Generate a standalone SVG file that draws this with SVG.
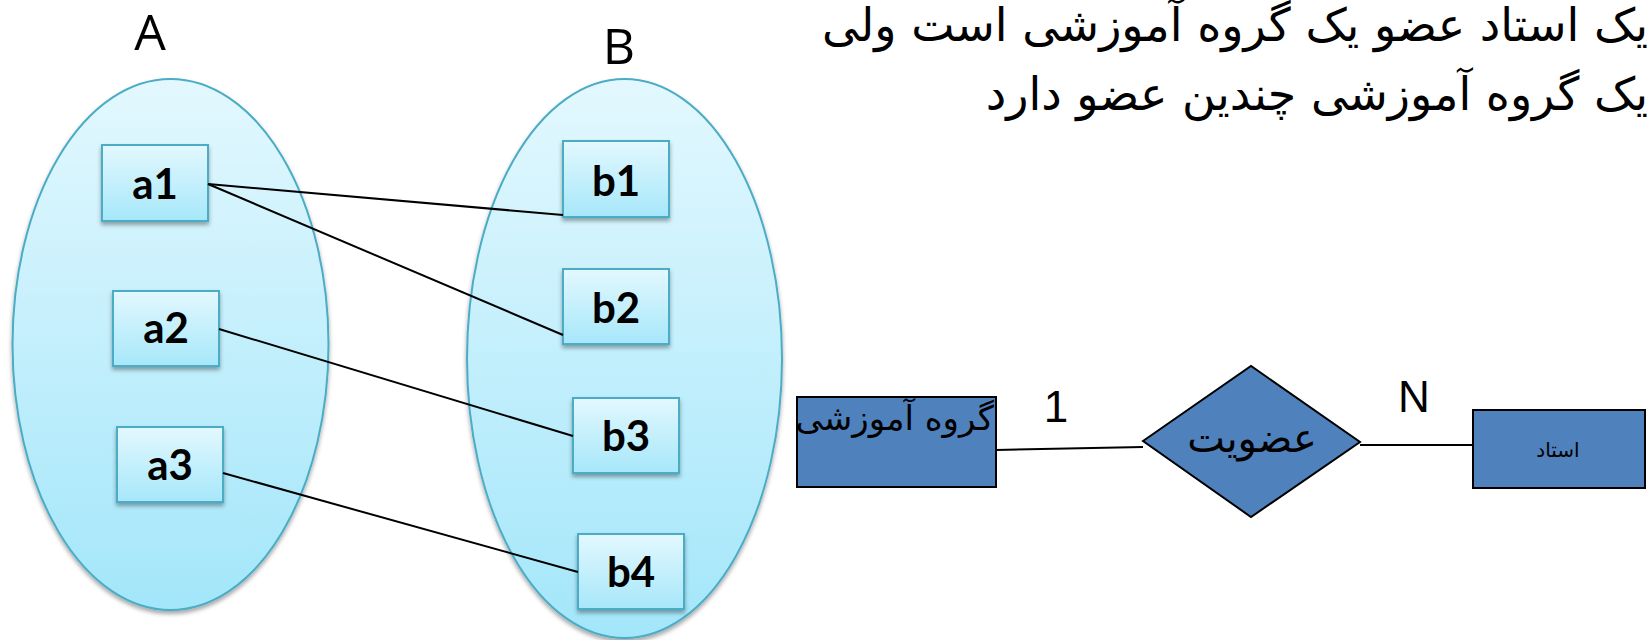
<svg xmlns="http://www.w3.org/2000/svg" width="1652" height="640" viewBox="0 0 1652 640">
<defs>
<linearGradient id="gEll" x1="0" y1="0" x2="0" y2="1">
<stop offset="0" stop-color="#E3F8FE"/>
<stop offset="1" stop-color="#A3E6FA"/>
</linearGradient>
<linearGradient id="gBox" x1="0" y1="0" x2="0" y2="1">
<stop offset="0" stop-color="#E3F8FE"/>
<stop offset="1" stop-color="#A6E7FA"/>
</linearGradient>
<filter id="sh" x="-20%" y="-20%" width="140%" height="140%">
<feDropShadow dx="0" dy="3" stdDeviation="2" flood-color="#000" flood-opacity="0.35"/>
</filter>
</defs>
<style>
.ell{fill:url(#gEll);stroke:#4BACC6;stroke-width:2;filter:url(#sh)}
.box{fill:url(#gBox);stroke:#4BACC6;stroke-width:2;filter:url(#sh)}
.lbl{font-family:Lato,"Open Sans","Liberation Sans",sans-serif;font-weight:bold;font-size:42px;text-anchor:middle;fill:#000}
.set{font-family:"Open Sans","Liberation Sans",sans-serif;font-size:50px;text-anchor:middle;fill:#000}
.er{fill:#4F81BD;stroke:#000;stroke-width:2}
.card{font-family:"Liberation Sans",Arial,sans-serif;font-size:44px;text-anchor:middle;fill:#000}
.fa{font-family:"DejaVu Sans","Noto Sans",sans-serif;fill:#000}
.conn{stroke:#000;stroke-width:2;fill:none}
</style>

<g id="setA">
<ellipse class="ell" cx="170.5" cy="344.5" rx="158" ry="265.5"/>
<text class="set" x="150" y="50">A</text>
</g>
<g id="setB">
<ellipse class="ell" cx="624.5" cy="358.5" rx="157.5" ry="279.5"/>
<text class="set" x="619" y="64">B</text>
</g>

<g id="a1"><rect class="box" x="102" y="145" width="106" height="76"/><text class="lbl" x="155" y="199">a1</text></g>
<g id="a2"><rect class="box" x="113" y="291" width="106" height="75"/><text class="lbl" x="166" y="343">a2</text></g>
<g id="a3"><rect class="box" x="117" y="427" width="106" height="75"/><text class="lbl" x="170" y="480">a3</text></g>
<g id="b1"><rect class="box" x="563" y="141" width="106" height="76"/><text class="lbl" x="616" y="196">b1</text></g>
<g id="b2"><rect class="box" x="563" y="269" width="106" height="75"/><text class="lbl" x="616" y="323">b2</text></g>
<g id="b3"><rect class="box" x="573" y="398" width="106" height="75"/><text class="lbl" x="626" y="451">b3</text></g>
<g id="b4"><rect class="box" x="578" y="534" width="106" height="75"/><text class="lbl" x="631" y="587">b4</text></g>

<g id="connectors">
<line class="conn" x1="208" y1="184" x2="563" y2="215"/>
<line class="conn" x1="208" y1="184" x2="563" y2="335"/>
<line class="conn" x1="219" y1="329" x2="573" y2="436"/>
<line class="conn" x1="223" y1="473" x2="578" y2="572"/>
<line class="conn" x1="996" y1="450" x2="1143" y2="447"/>
<line class="conn" x1="1360" y1="445" x2="1473" y2="445"/>
</g>

<g id="title">
<text class="fa" font-size="46" x="1648" y="41" direction="rtl" text-anchor="start">یک استاد عضو یک گروه آموزشی است ولی</text>
<text class="fa" font-size="46" x="1648" y="110" direction="rtl" text-anchor="start">یک گروه آموزشی چندین عضو دارد</text>
</g>

<g id="group">
<rect class="er" x="797" y="397" width="199" height="90"/>
<text class="fa" font-size="34" x="994" y="430" direction="rtl" text-anchor="start">گروه آموزشی</text>
</g>
<g id="membership">
<polygon class="er" points="1143,441 1251,366 1360,442 1251,517"/>
<text class="fa" font-size="40" x="1252" y="452" direction="rtl" text-anchor="middle">عضویت</text>
</g>
<g id="professor">
<rect class="er" x="1473" y="410" width="172" height="78"/>
<text class="fa" font-size="20" x="1558" y="457" direction="rtl" text-anchor="middle">استاد</text>
</g>
<text class="card" x="1056" y="422">1</text>
<text class="card" x="1414" y="412">N</text>
</svg>
